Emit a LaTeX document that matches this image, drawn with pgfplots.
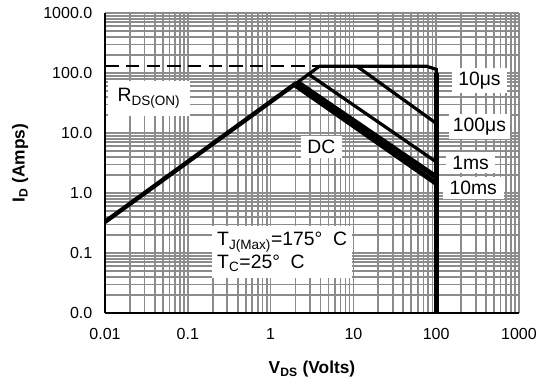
\documentclass[border=0pt]{standalone}
\usepackage{fontspec}
\setmainfont{Liberation Sans}
\usepackage{pgfplots}
\pgfplotsset{compat=1.18}
\definecolor{gridgray}{RGB}{140,140,140}
\begin{document}
\begin{tikzpicture}
\begin{axis}[
 scale only axis, width=310.5pt, height=225pt,
 xmode=log, ymode=log,
 xmin=0.01, xmax=1000, ymin=0.01, ymax=1000,
 axis x line*=bottom, axis y line*=left,
 axis line style={line width=2.2pt, -},
 xtick={0.01,0.1,1,10,100,1000},
 xticklabels={0.01,0.1,1,10,100,1000},
 ytick={0.01,0.1,1,10,100,1000},
 yticklabels={0.0,0.1,1.0,10.0,100.0,1000.0},
 minor xtick={0.02,0.03,0.04,0.05,0.06,0.07,0.08,0.09,0.2,0.3,0.4,0.5,0.6,0.7,0.8,0.9,2,3,4,5,6,7,8,9,20,30,40,50,60,70,80,90,200,300,400,500,600,700,800,900},
 minor ytick={0.02,0.03,0.04,0.05,0.06,0.07,0.08,0.09,0.2,0.3,0.4,0.5,0.6,0.7,0.8,0.9,2,3,4,5,6,7,8,9,20,30,40,50,60,70,80,90,200,300,400,500,600,700,800,900},
 major tick length=0pt, minor tick length=0pt,
 grid=both,
 major grid style={line width=1.3pt, color=gridgray},
 minor grid style={line width=1.3pt, color=gridgray},
 /pgf/number format/assume math mode=true,
 tick label style={font=\fontsize{12}{14}\selectfont},
 xticklabel style={yshift=-8pt},
 yticklabel style={xshift=-6pt},
 xlabel={\textbf{V\textsubscript{DS} (Volts)}},
 ylabel={\textbf{I\textsubscript{D} (Amps)}},
 label style={font=\fontsize{13}{15}\selectfont},
 xlabel style={at={(rel axis cs:0.5,0)}, anchor=center, yshift=-42pt},
 every axis y label/.append style={at={(ticklabel cs:0.5)}, anchor=center},
 ylabel shift=14pt,
 clip=true,
]
\coordinate (sw) at (rel axis cs:0,0);
\coordinate (ne) at (rel axis cs:1,1);
% dashed current limit
\addplot[black, line width=1.6pt, dash pattern=on 10pt off 5.5pt] coordinates {(0.0101,130) (3.9,130)};
% RDS(on) line
\addplot[black, line width=3.3pt] coordinates {(0.01,0.33) (2.05,68)};
% 10 us
\addplot[black, line width=2.4pt, line join=miter] coordinates {(2.0,66) (3.9,130) (76,130) (100,115) (100,0.008)};
\addplot[black, line width=3.6pt] coordinates {(100,100) (100,0.008)};
% 100 us
\addplot[black, line width=2.4pt] coordinates {(11,130) (100,14.5)};
% 1 ms
\addplot[black, line width=2.4pt] coordinates {(2.9,95) (100,3.3)};
% 10 ms
\addplot[black, line width=3.8pt] coordinates {(2.1,70) (100,1.85)};
% DC
\addplot[black, line width=3.8pt] coordinates {(1.95,64) (100,1.45)};

\begin{scope}[every node/.style={fill=white, inner sep=3pt, font=\fontsize{14.5}{17}\selectfont}]
\node[inner xsep=7pt, inner ysep=6pt] at (axis cs:0.034,38) {R\textsubscript{DS(ON)}};
\node[inner xsep=5pt] at (axis cs:4.1,5.8) {DC};
\node[anchor=west, align=left, inner xsep=4pt, inner ysep=5pt] at (axis cs:0.194,0.104) {T\textsubscript{J(Max)}=175° \ C\\T\textsubscript{C}=25° \ C};
\node[inner xsep=5pt] at (axis cs:333,76) {10μs};
\node[inner xsep=3pt] at (axis cs:333,13) {100μs};
\node[inner xsep=5pt] at (axis cs:260,3.2) {1ms};
\node[inner xsep=5pt] at (axis cs:280,1.2) {10ms};
\end{scope}
\end{axis}
\pgfresetboundingbox
\path[use as bounding box] ([shift={(-78.75pt,-51pt)}]sw) rectangle ([shift={(15pt,9.75pt)}]ne);
\end{tikzpicture}
\end{document}
